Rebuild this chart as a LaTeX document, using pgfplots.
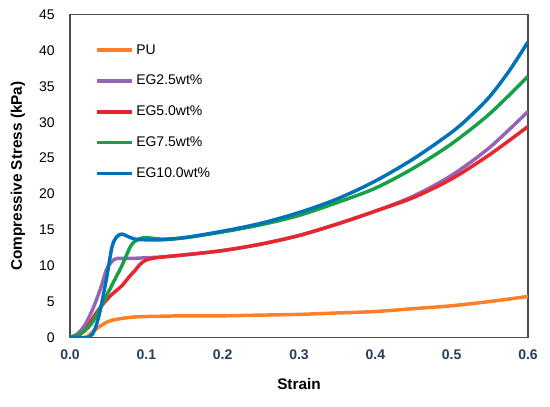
\documentclass[border=0pt]{standalone}
\usepackage{fontspec}
\setmainfont{Liberation Sans}
\usepackage{pgfplots}
\pgfplotsset{compat=1.18}
\definecolor{cPU}{RGB}{255,127,39}
\definecolor{cEGa}{RGB}{150,100,180}
\definecolor{cEGb}{RGB}{232,38,46}
\definecolor{cEGc}{RGB}{24,160,72}
\definecolor{cEGd}{RGB}{0,114,182}
\definecolor{xtc}{RGB}{35,62,95}
\begin{document}
\begin{tikzpicture}
\begin{axis}[
  scale only axis,
  width=343.5pt, height=242pt,
  xmin=0, xmax=0.6, ymin=0, ymax=45,
  xtick={0,0.1,...,0.6},
  ytick={0,5,...,45},
  xticklabels={0.0,0.1,0.2,0.3,0.4,0.5,0.6},
  yticklabels={0,5,10,15,20,25,30,35,40,45},
  major tick length=0pt,
  axis line style={draw=black!70, line width=1.1pt},
  tick label style={font=\fontsize{10.5}{12}\selectfont},
  xticklabel style={text=xtc, yshift=-6pt, font=\fontsize{10.5}{12}\selectfont\bfseries},
  yticklabel style={xshift=-8pt},
  xlabel={\textbf{Strain}},
  ylabel={\textbf{Compressive Stress (kPa)}},
  label style={font=\fontsize{11.5}{13}\selectfont},
  xlabel style={at={(axis description cs:0.5,-0.146)}, anchor=center},
  ylabel style={at={(axis description cs:-0.1135,0.5)}, anchor=center},
  legend style={draw=none, fill=none, at={(axis description cs:0.055,0.917)}, anchor=north west,
    font=\fontsize{10.5}{12}\selectfont, row sep=10.3pt, inner sep=0pt},
  legend cell align=left,
  legend image code/.code={\draw[#1] (0pt,0pt) -- (26pt,0pt);},
  every axis plot/.append style={line width=2.6pt, smooth, tension=0.5},
]
\addplot[cPU] coordinates {
(0,0) (0.02,0) (0.03,0.8) (0.04,1.6) (0.05,2.2) (0.06,2.5) (0.08,2.8) (0.1,2.9) (0.15,3.0) (0.2,3.0) (0.25,3.1) (0.3,3.2) (0.35,3.4) (0.4,3.6) (0.45,4.0) (0.5,4.4) (0.55,5.0) (0.6,5.7)};
\addlegendentry{PU}
\addplot[cEGa] coordinates {
(0,0) (0.01,0.5) (0.02,1.8) (0.03,4.0) (0.04,6.8) (0.048,9.5) (0.055,10.6) (0.062,11.0) (0.08,11.0) (0.1,11.1) (0.12,11.2) (0.15,11.5) (0.2,12.1) (0.25,13.0) (0.3,14.2) (0.35,15.8) (0.4,17.6) (0.45,19.7) (0.5,22.6) (0.55,26.5) (0.6,31.5)};
\addlegendentry{EG2.5wt\%}
\addplot[cEGb] coordinates {
(0,0) (0.01,0.2) (0.02,1.0) (0.026,2.0) (0.035,3.5) (0.046,5.0) (0.055,6.0) (0.068,7.2) (0.078,8.5) (0.085,9.3) (0.092,10.2) (0.1,10.8) (0.113,11.1) (0.13,11.3) (0.15,11.5) (0.2,12.1) (0.25,13.0) (0.3,14.2) (0.35,15.8) (0.4,17.6) (0.45,19.5) (0.5,22.1) (0.55,25.5) (0.6,29.4)};
\addlegendentry{EG5.0wt\%}
\addplot[cEGc] coordinates {
(0,0) (0.01,0.3) (0.02,1.0) (0.03,2.2) (0.044,5.0) (0.055,7.3) (0.068,10.0) (0.08,12.8) (0.09,13.7) (0.1,13.9) (0.12,13.7) (0.15,13.9) (0.2,14.7) (0.25,15.7) (0.3,17.0) (0.35,18.8) (0.4,20.8) (0.45,23.6) (0.5,27.0) (0.55,31.2) (0.6,36.4)};
\addlegendentry{EG7.5wt\%}
\addplot[cEGd] coordinates {
(0,0) (0.024,0) (0.032,1.0) (0.039,3.5) (0.048,8.3) (0.055,12.6) (0.061,14.0) (0.068,14.4) (0.075,14.1) (0.085,13.7) (0.1,13.6) (0.12,13.6) (0.15,13.9) (0.2,14.8) (0.25,15.9) (0.3,17.4) (0.35,19.3) (0.4,21.8) (0.45,24.9) (0.5,28.6) (0.525,30.9) (0.55,33.6) (0.575,37.1) (0.6,41.2)};
\addlegendentry{EG10.0wt\%}
\end{axis}
\path ([xshift=-52.5pt,yshift=-52pt]current axis.south west) rectangle ([xshift=16.5pt,yshift=11pt]current axis.north east);
\end{tikzpicture}
\end{document}
